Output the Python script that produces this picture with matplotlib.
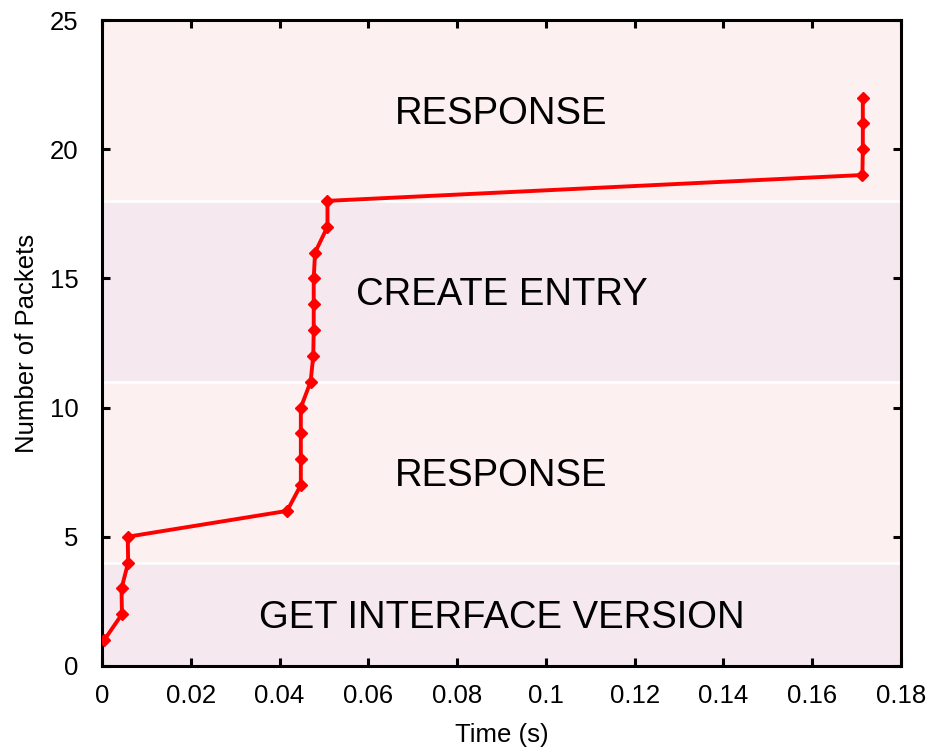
import matplotlib

matplotlib.use("Agg")

import matplotlib.pyplot as plt

plt.rcParams["font.family"] = ["Liberation Sans", "DejaVu Sans"]

# Packet arrival times (s) and cumulative packet count
time_s = [0.0005, 0.0045, 0.0044, 0.0059, 0.0058, 0.0417, 0.0448, 0.0448,
          0.0448, 0.0448, 0.0470, 0.0476, 0.0477, 0.0477, 0.0477, 0.0480,
          0.0508, 0.0508, 0.1713, 0.1714, 0.1714, 0.1714]
packets = list(range(1, 23))

# Protocol phases: (lower, upper, label)
band_low = [0, 4, 11, 18]
band_high = [4, 11, 18, 25]
band_labels = ["GET INTERFACE VERSION", "RESPONSE", "CREATE ENTRY", "RESPONSE"]
band_colors = ["#f5e9ef", "#fdf0f0", "#f5e9ef", "#fdf0f0"]

fig = plt.figure(figsize=(9.33, 7.55), dpi=100)
ax = fig.add_axes([0.1093, 0.118, 0.8564, 0.8555])

for lo, hi, lab, col in zip(band_low, band_high, band_labels, band_colors):
    ax.axhspan(lo, hi, color=col, lw=0, zorder=0)
    ax.text(0.09, (lo + hi) / 2 - 0.15, lab, ha="center", va="center",
            fontsize=27.5, zorder=1)
for y in band_low[1:]:
    ax.axhline(y, color="white", lw=1.8, zorder=0.5)

ax.plot(time_s, packets, color="#ff0000", lw=2.8, marker="D",
        markersize=6, zorder=3)

ax.set_xlim(0, 0.18)
ax.set_ylim(0, 25)
ax.set_xticks([0, 0.02, 0.04, 0.06, 0.08, 0.1, 0.12, 0.14, 0.16, 0.18])
ax.set_xticklabels(["0", "0.02", "0.04", "0.06", "0.08", "0.1", "0.12",
                    "0.14", "0.16", "0.18"])
ax.set_yticks([0, 5, 10, 15, 20, 25])
ax.tick_params(direction="in", length=6, width=2.2, labelsize=18.5,
               top=True, right=True)
ax.tick_params(axis="x", pad=13)
ax.tick_params(axis="y", pad=17)
for sp in ax.spines.values():
    sp.set_linewidth(2.2)

ax.set_xlabel("Time (s)", fontsize=18.5, labelpad=11)
ax.set_ylabel("Number of Packets", fontsize=18.5, labelpad=8)

fig.savefig("out.png", dpi=100, facecolor="white")
plt.close(fig)
